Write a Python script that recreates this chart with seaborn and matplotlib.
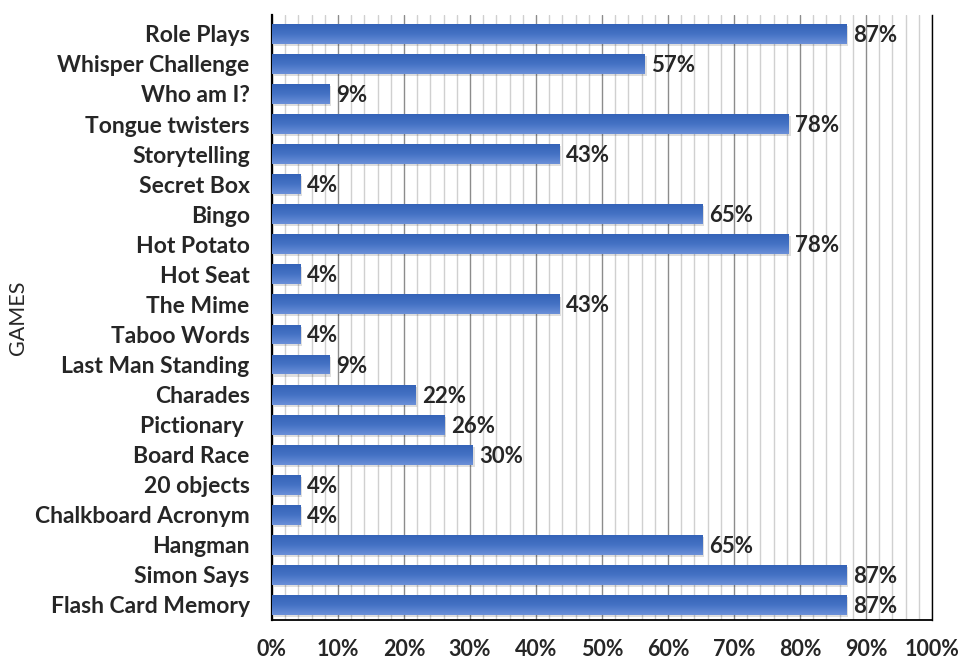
import numpy as np
import pandas as pd
import matplotlib
matplotlib.use("Agg")
import matplotlib.pyplot as plt
import seaborn as sns
from matplotlib.ticker import MultipleLocator, PercentFormatter

# === Данные ===
games = ["Role Plays", "Whisper Challenge", "Who am I?", "Tongue twisters",
         "Storytelling", "Secret Box", "Bingo", "Hot Potato", "Hot Seat",
         "The Mime", "Taboo Words", "Last Man Standing", "Charades",
         "Pictionary ", "Board Race", "20 objects", "Chalkboard Acronym",
         "Hangman", "Simon Says", "Flash Card Memory"]
# длины столбиков
percent = [87.0, 56.5, 8.7, 78.3, 43.5, 4.3, 65.2, 78.3, 4.3, 43.5, 4.3, 8.7,
           21.7, 26.1, 30.4, 4.3, 4.3, 65.2, 87.0, 87.0]
# подписи, как они напечатаны на графике
value_labels = ["87%", "57%", "9%", "78%", "43%", "4%", "65%", "78%", "4%",
                "43%", "4%", "9%", "22%", "26%", "30%", "4%", "4%", "65%",
                "87%", "87%"]

df = pd.DataFrame({"game": games, "pct": percent})

sns.set_style("white")
plt.rcParams["font.family"] = ["Lato", "DejaVu Sans"]

fig = plt.figure(figsize=(9.6, 6.62), dpi=100)
ax = fig.add_axes([0.2833, 0.0634, 0.6875, 0.9136])

sns.barplot(data=df, x="pct", y="game", color="#4472C4", width=0.66,
            saturation=1, linewidth=0, ax=ax, zorder=3)

# Градиент на столбиках (светлее сверху)
grad = np.linspace(0, 1, 64).reshape(-1, 1)
cmap = matplotlib.colors.LinearSegmentedColormap.from_list(
    "bar", ["#6B90D8", "#4472C4", "#3563B8"])
for p in ax.patches[:]:
    x0, y0 = p.get_x(), p.get_y()
    w, h = p.get_width(), p.get_height()
    # тень
    ax.add_patch(plt.Rectangle((x0 + 0.3, y0 + 0.07), w, h, color="#000000",
                               alpha=0.13, zorder=2, lw=0))
    im = ax.imshow(grad, extent=(x0, x0 + w, y0 + h, y0), aspect="auto",
                   cmap=cmap, zorder=3.5, origin="lower")
    im.set_clip_path(p)

ax.set_xlim(0, 100)
ax.set_ylim(len(games) - 0.5, -0.62)

for i, (v, lab) in enumerate(zip(percent, value_labels)):
    ax.text(v + 1.0, i + 0.05, lab, va="center", ha="left",
            fontsize=16, fontweight="bold", zorder=5)

ax.xaxis.set_major_locator(MultipleLocator(10))
ax.xaxis.set_minor_locator(MultipleLocator(2))
ax.xaxis.set_major_formatter(PercentFormatter(decimals=0))
ax.grid(axis="x", which="major", color="#8c8c8c", lw=1.0, zorder=0)
ax.grid(axis="x", which="minor", color="#d0d0d0", lw=1.0, zorder=0)
ax.set_axisbelow(True)

ax.tick_params(axis="both", length=0)
ax.tick_params(axis="x", pad=14, labelsize=15.5)
ax.tick_params(axis="y", pad=16, labelsize=16.5)
for lbl in ax.get_xticklabels() + ax.get_yticklabels():
    lbl.set_fontweight("bold")

ax.set_xlabel("")
ax.set_ylabel("GAMES", fontsize=15.5)
ax.yaxis.set_label_coords(-0.37, 0.5)

for s in ["left", "bottom", "right"]:
    ax.spines[s].set_visible(True)
    ax.spines[s].set_color("black")
ax.spines["left"].set_linewidth(1.6)
ax.spines["bottom"].set_linewidth(1.3)
ax.spines["right"].set_linewidth(1.0)
ax.spines["top"].set_visible(False)

fig.savefig("out.png", dpi=100)
